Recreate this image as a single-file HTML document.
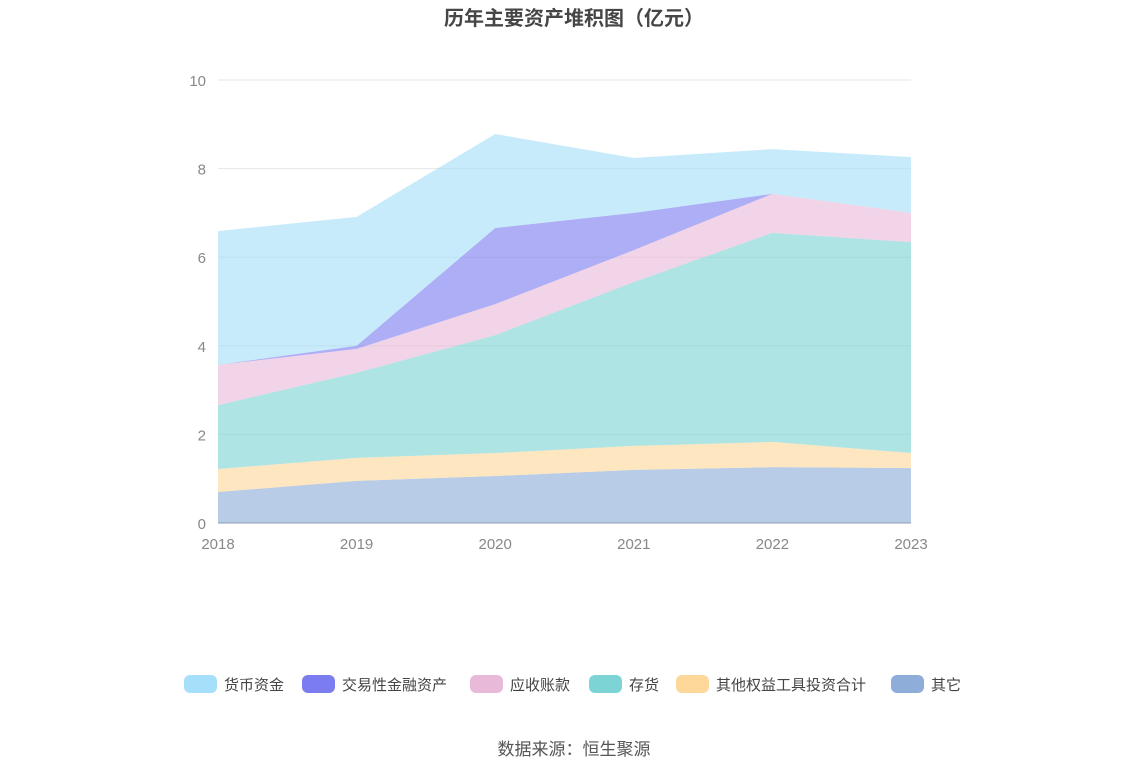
<!DOCTYPE html>
<html><head><meta charset="utf-8">
<style>
body{margin:0;width:1148px;height:776px;background:#fff;font-family:"Liberation Sans","Noto Sans CJK SC",sans-serif;overflow:hidden}
</style></head>
<body>
<svg id="chart" width="1148" height="776" style="position:absolute;left:0;top:0">
<text x="574" y="25" text-anchor="middle" font-size="20" font-weight="bold" fill="#464646">历年主要资产堆积图（亿元）</text>
<g id="grid"></g><g id="areas"></g><g id="axes"></g><g id="legend"></g>
<text x="574" y="755" text-anchor="middle" font-size="17" fill="#555">数据来源：恒生聚源</text>
</svg>
<script>
const years=["2018","2019","2020","2021","2022","2023"];
const yTicks=[0,2,4,6,8,10];
const seriesNames=["其它","其他权益工具投资合计","存货","应收账款","交易性金融资产","货币资金"];
const other=[0.70,0.95,1.06,1.20,1.26,1.24];
const equityInv=[0.52,0.52,0.52,0.54,0.57,0.34];
const inventory=[1.44,1.92,2.66,3.70,4.72,4.76];
const receivables=[0.91,0.54,0.70,0.72,0.88,0.66];
const tradingAssets=[0.0,0.07,1.72,0.84,0.0,0.0];
const cash=[3.02,2.91,2.12,1.24,1.01,1.26];
const fills=["#8eadd8","#fdd89a","#7dd4d4","#e8b9d9","#7b7cf0","#a5dff9"];
const legendOrder=[5,4,3,2,1,0];
const legendLabels=["货币资金","交易性金融资产","应收账款","存货","其他权益工具投资合计","其它"];
const NS="http://www.w3.org/2000/svg";
const x0=218,x1=911,y0=523,y1=80;
const xs=i=>x0+(x1-x0)*i/(years.length-1);
const ys=v=>y0-(y0-y1)*v/10;
function mk(t,a,p){const e=document.createElementNS(NS,t);for(const k in a)e.setAttribute(k,a[k]);p.appendChild(e);return e;}
const grid=document.getElementById('grid'),axes=document.getElementById('axes'),areas=document.getElementById('areas'),legend=document.getElementById('legend');
yTicks.forEach(t=>{
 const l=mk('line',{x1:x0,x2:x1,y1:ys(t),y2:ys(t),stroke:'#e6e6e6'},grid);
 
 
 const tx=mk('text',{x:206,y:ys(t)+6,'text-anchor':'end','font-size':15,fill:'#888'},axes);
 tx.textContent=t;
 
 
});
const data=[other,equityInv,inventory,receivables,tradingAssets,cash];
let base=years.map(()=>0);
data.forEach((s,k)=>{
 const top=base.map((b,i)=>b+s[i]);
 let d='M'+top.map((v,i)=>xs(i)+','+ys(v)).join('L');
 for(let i=years.length-1;i>=0;i--)d+='L'+xs(i)+','+ys(base[i]);
 const p=mk('path',{d:d+'Z',fill:fills[k],'fill-opacity':0.62},areas);
 
 
 base=top;
});
const ax=mk('line',{x1:x0,x2:x1,y1:y0,y2:y0,stroke:'#8c9bb5'},axes);


years.forEach((y,i)=>{
 const t=mk('text',{x:xs(i),y:549,'text-anchor':'middle','font-size':15,fill:'#888'},axes);
 t.textContent=y;
 
 
});
const lx=[184,302,470,589,676,891];
legendOrder.forEach((k,j)=>{
 const g=mk('g',{},legend);
 
 
 mk('rect',{x:lx[j],y:675,width:33,height:18,rx:6,fill:fills[k]},g);
 const t=mk('text',{x:lx[j]+40,y:690,'font-size':15,fill:'#444'},g);
 t.textContent=legendLabels[j];
});
</script>
</body></html>
